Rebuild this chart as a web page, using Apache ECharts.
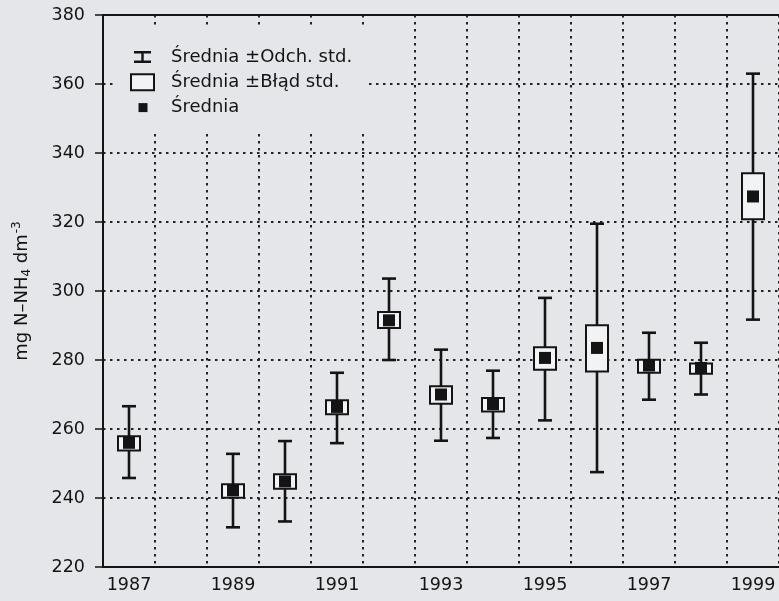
<!DOCTYPE html>
<html>
<head>
<meta charset="utf-8">
<script src="https://cdn.jsdelivr.net/npm/echarts@6/dist/echarts.min.js"></script>
<style>
html,body{margin:0;padding:0;background:#e4e6e9;}
#chart{width:779px;height:601px;}
</style>
</head>
<body>
<div id="chart"></div>
<script>
// ---- data ----
const years = ['1987','1988','1989','1990','1991','1992','1993','1994','1995','1996','1997','1998','1999'];
const means  = [256.0, null, 242.2, 244.8, 266.4, 291.5, 270.0, 267.2, 280.6, 283.5, 278.4, 277.7, 327.4];
const sdHigh = [266.6, null, 252.8, 256.5, 276.3, 303.6, 283.0, 276.9, 298.0, 319.5, 287.9, 285.0, 363.0];
const sdLow  = [245.8, null, 231.5, 233.2, 255.9, 280.0, 256.6, 257.4, 262.5, 247.5, 268.5, 270.0, 291.7];
const seHigh = [257.9, null, 244.0, 246.9, 268.3, 293.9, 272.4, 269.0, 283.7, 290.1, 280.1, 279.0, 334.1];
const seLow  = [253.8, null, 240.1, 242.7, 264.3, 289.3, 267.3, 265.1, 277.2, 276.7, 276.3, 276.0, 320.8];
const yTicks = { min: 220, max: 380, step: 20 };
const legendNames = ['Średnia ±Odch. std.', 'Średnia ±Błąd std.', 'Średnia'];

// ---- build ----
const whiskerData = [], boxData = [], meanData = [];
years.forEach((y, i) => {
  if (means[i] == null) return;
  whiskerData.push([i, sdLow[i], sdHigh[i]]);
  boxData.push([i, seLow[i], seHigh[i]]);
  meanData.push([i, means[i]]);
});

const INK = '#141414';
const FONT = 'DejaVu Sans';
const BG = '#e4e6e9';
const BOXFILL = '#f2f3f4';
const dotted = { type: [2.5, 4.5], color: '#222', width: 2 };

const chart = echarts.init(document.getElementById('chart'), null, { renderer: 'canvas' });
chart.setOption({
  backgroundColor: BG,
  animation: false,
  grid: { left: 103, right: 0, top: 15, bottom: 34, containLabel: false, outerBoundsMode: 'none' },
  legend: {
    orient: 'vertical',
    left: 115, top: 29,
    padding: [19, 15, 14, 15],
    backgroundColor: BG,
    itemWidth: 23, itemHeight: 16, itemGap: 7.3,
    selectedMode: false,
    textStyle: { fontFamily: FONT, fontSize: 18, color: INK, padding: [0, 0, 0, 12] },
    data: [
      { name: legendNames[0], icon: 'path://M0,0M23,16M3,2h17v2.4h-17zM10.3,3h2.4v10h-2.4zM3,11.6h17v2.4h-17z',
        itemStyle: { color: INK, borderWidth: 0, opacity: 1 } },
      { name: legendNames[1], icon: 'rect',
        itemStyle: { color: BOXFILL, borderColor: INK, borderWidth: 2, opacity: 1 } },
      { name: legendNames[2], icon: 'path://M0,0M23,16M7.5,3.5h9v9h-9z',
        itemStyle: { color: INK, borderWidth: 0, opacity: 1 } }
    ]
  },
  xAxis: [{
    type: 'category',
    data: years,
    boundaryGap: true,
    axisLine: { lineStyle: { color: INK, width: 2 } },
    axisTick: { show: false },
    axisLabel: { interval: 1, margin: 9, fontFamily: FONT, fontSize: 17.5, color: INK },
    splitLine: { show: true, interval: 0, lineStyle: dotted }
  }, {
    type: 'category',
    data: years,
    position: 'top',
    axisLine: { lineStyle: { color: INK, width: 2 } },
    axisTick: { show: false },
    axisLabel: { show: false },
    splitLine: { show: false }
  }],
  yAxis: {
    type: 'value',
    min: yTicks.min, max: yTicks.max, interval: yTicks.step,
    name: '{a|mg N–NH}{sub|4}{a| dm}{sup|-3}',
    nameLocation: 'middle',
    nameRotate: 90,
    nameGap: 68,
    nameTextStyle: {
      rich: {
        a: { fontFamily: FONT, fontSize: 18, color: INK, lineHeight: 26, verticalAlign: 'middle' },
        sub: { fontFamily: FONT, fontSize: 12, color: INK, lineHeight: 12, verticalAlign: 'bottom', padding: [0, 0, 2, 0] },
        sup: { fontFamily: FONT, fontSize: 12, color: INK, lineHeight: 12, verticalAlign: 'top', padding: [2, 0, 0, 1] }
      }
    },
    axisLine: { show: true, lineStyle: { color: INK, width: 2 } },
    axisTick: { show: true, inside: false, length: 8, lineStyle: { color: INK, width: 1.5 } },
    axisLabel: { margin: 18, fontFamily: FONT, fontSize: 17.5, color: INK },
    splitLine: { show: true, lineStyle: dotted }
  },
  series: [
    {
      name: legendNames[0],
      type: 'custom',
      itemStyle: { color: INK, opacity: 1 },
      encode: { x: 0, y: [1, 2] },
      data: whiskerData,
      z: 3,
      renderItem: function (params, api) {
        const lo = api.coord([api.value(0), api.value(1)]);
        const hi = api.coord([api.value(0), api.value(2)]);
        const cw = 7;
        const st = { stroke: INK, lineWidth: 2.6 };
        return {
          type: 'group',
          children: [
            { type: 'line', shape: { x1: lo[0], y1: lo[1], x2: hi[0], y2: hi[1] }, style: st },
            { type: 'line', shape: { x1: hi[0] - cw, y1: hi[1], x2: hi[0] + cw, y2: hi[1] }, style: st },
            { type: 'line', shape: { x1: lo[0] - cw, y1: lo[1], x2: lo[0] + cw, y2: lo[1] }, style: st }
          ]
        };
      }
    },
    {
      name: legendNames[1],
      type: 'custom',
      itemStyle: { color: BOXFILL, opacity: 1 },
      encode: { x: 0, y: [1, 2] },
      data: boxData,
      z: 4,
      renderItem: function (params, api) {
        const lo = api.coord([api.value(0), api.value(1)]);
        const hi = api.coord([api.value(0), api.value(2)]);
        const w = 22;
        return {
          type: 'rect',
          shape: { x: hi[0] - w / 2, y: hi[1], width: w, height: lo[1] - hi[1] },
          style: { fill: BOXFILL, stroke: INK, lineWidth: 2 }
        };
      }
    },
    {
      name: legendNames[2],
      type: 'scatter',
      symbol: 'rect',
      symbolSize: 12,
      itemStyle: { color: INK, opacity: 1 },
      data: meanData,
      z: 5
    }
  ]
});
</script>
</body>
</html>
